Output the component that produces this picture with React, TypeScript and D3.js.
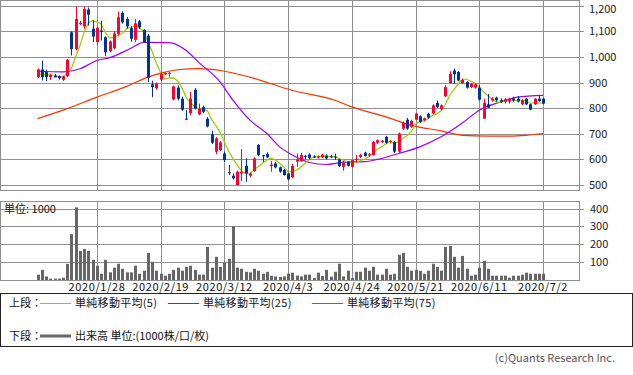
import React from "react";
import * as d3 from "d3";

// ---- data ----
const startDate = "2020-01-07";
const endDate = "2020-07-02";
const holidays = ["2020-01-13", "2020-02-11", "2020-02-24", "2020-03-20", "2020-04-29", "2020-05-04", "2020-05-05", "2020-05-06"];
const tickLabels = ["2020/1/28", "2020/2/19", "2020/3/12", "2020/4/3", "2020/4/24", "2020/5/21", "2020/6/11", "2020/7/2"];
const priceTicks = [500, 600, 700, 800, 900, 1000, 1100, 1200];
const volTicks = [100, 200, 300, 400];

const openP = [
  921, 951, 941, 921, 927, 925, 911, 925, 1096, 1031,
  1128, 1119, 1185, 1110, 1058, 1103, 1077, 1022, 1034, 1090,
  1172, 1148, 1112, 1067, 1139, 1106, 1083, 893, 878, 911,
  932, 935, 834, 880, 837, 759, 781, 872, 776, 804,
  759, 698, 630, 636, 623, 550, 536, 500, 545, 575,
  536, 554, 656, 616, 621, 574, 584, 569, 558, 545,
  530, 591, 594, 614, 619, 612, 607, 608, 615, 612,
  611, 600, 571, 591, 571, 598, 610, 626, 615, 617,
  665, 668, 688, 670, 668, 630, 720, 755, 727, 755,
  768, 753, 778, 779, 821, 796, 846, 898, 947, 941,
  898, 902, 882, 880, 880, 759, 815, 830, 841, 831,
  825, 826, 838, 837, 815, 837, 815, 815, 837, 837,
];
const closeP = [
  951, 921, 921, 929, 920, 917, 924, 989, 1031, 1148,
  1133, 1187, 1165, 1080, 1114, 1097, 1018, 1060, 1092, 1155,
  1135, 1119, 1071, 1131, 1116, 1058, 919, 882, 897, 934,
  937, 938, 885, 837, 794, 757, 837, 798, 798, 786,
  729, 665, 682, 666, 597, 548, 526, 552, 552, 545,
  545, 604, 617, 614, 608, 580, 569, 552, 539, 522,
  574, 600, 617, 610, 606, 609, 611, 619, 604, 609,
  608, 574, 587, 575, 597, 602, 617, 613, 620, 668,
  675, 673, 665, 672, 630, 701, 742, 720, 750, 779,
  746, 760, 763, 811, 805, 811, 882, 934, 932, 908,
  910, 880, 895, 893, 833, 820, 802, 837, 831, 825,
  835, 837, 830, 826, 831, 815, 794, 837, 828, 818,
];
const highP = [
  955, 986, 951, 935, 933, 928, 927, 992, 1100, 1196,
  1140, 1196, 1193, 1142, 1118, 1142, 1080, 1064, 1100, 1177,
  1178, 1155, 1120, 1148, 1145, 1108, 1090, 907, 900, 940,
  940, 943, 888, 889, 845, 792, 863, 878, 818, 810,
  765, 712, 687, 672, 630, 578, 545, 556, 640, 604,
  548, 608, 660, 618, 628, 594, 590, 572, 562, 548,
  583, 623, 625, 618, 623, 616, 615, 622, 620, 618,
  622, 602, 594, 594, 598, 617, 622, 630, 625, 672,
  678, 676, 692, 675, 672, 705, 748, 762, 755, 782,
  772, 763, 782, 815, 830, 815, 890, 944, 954, 945,
  915, 905, 898, 897, 890, 837, 855, 843, 845, 838,
  840, 841, 845, 848, 835, 840, 818, 840, 848, 840,
];
const lowP = [
  918, 908, 905, 910, 921, 911, 906, 922, 1006, 1025,
  1125, 1110, 1122, 1058, 1048, 1064, 1003, 1018, 1030, 1083,
  1130, 1110, 1060, 1058, 1110, 1055, 902, 843, 872, 905,
  930, 921, 830, 830, 790, 753, 772, 795, 772, 780,
  725, 660, 620, 632, 590, 539, 522, 498, 515, 513,
  530, 552, 612, 590, 605, 552, 565, 548, 536, 518,
  526, 571, 590, 600, 600, 605, 603, 605, 600, 605,
  598, 570, 556, 572, 568, 588, 605, 610, 610, 615,
  660, 664, 660, 662, 625, 625, 715, 715, 722, 752,
  742, 748, 758, 776, 800, 792, 843, 896, 896, 905,
  895, 876, 878, 876, 830, 759, 800, 825, 825, 820,
  818, 818, 825, 822, 812, 812, 792, 812, 825, 815,
];
const volume = [
  30, 57, 20, 8, 8, 8, 13, 90, 257, 407,
  163, 174, 163, 113, 80, 35, 113, 43, 69, 91,
  63, 43, 43, 80, 35, 52, 152, 102, 52, 35,
  24, 35, 57, 69, 52, 74, 80, 57, 30, 30,
  185, 69, 130, 74, 98, 118, 302, 69, 63, 46,
  43, 63, 52, 35, 46, 24, 20, 17, 20, 35,
  41, 25, 20, 30, 30, 11, 41, 22, 57, 19,
  46, 91, 20, 52, 11, 46, 46, 69, 52, 74,
  30, 30, 63, 30, 35, 141, 152, 74, 52, 57,
  52, 35, 52, 91, 74, 52, 185, 191, 130, 69,
  135, 63, 24, 30, 69, 107, 63, 24, 24, 24,
  24, 13, 24, 24, 30, 41, 35, 35, 35, 35,
];
// closes before the first visible day (for the 5-day average)
const priorCloses = [930, 926, 934, 928];
// readings of the 25- and 75-day averages [day index, value]
const ma25Read: [number, number][] = [
  [0, 944], [6, 942], [10, 954], [14, 986], [17, 997], [22, 1034], [25, 1057], [31, 1056],
  [35, 1025], [38, 978], [43, 902], [46, 831], [50, 753], [54, 701], [57, 649], [60, 617],
  [64, 588], [68, 580], [72, 589], [77, 591], [80, 600], [85, 623], [90, 649], [95, 688],
  [100, 742], [104, 792], [109, 824], [113, 843], [119, 850],
];
const ma75Read: [number, number][] = [
  [0, 759], [7, 798], [14, 843], [21, 885], [26, 921], [29, 937], [33, 950], [38, 954],
  [43, 947], [50, 921], [60, 869], [70, 831], [74, 805], [82, 766], [88, 733], [95, 711],
  [100, 694], [106, 691], [111, 691], [115, 694], [119, 701],
];

const legendItems = [
  { label: "単純移動平均(5)", color: "#99cc00" },
  { label: "単純移動平均(25)", color: "#9900ff" },
  { label: "単純移動平均(75)", color: "#ff3300" },
];

// ---- helpers ----
function tradingDays(): string[] {
  const out: string[] = [];
  const hol = new Set(holidays);
  const fmtKey = d3.timeFormat("%Y-%m-%d");
  const days = d3.timeDay.range(new Date(startDate + "T00:00:00"), d3.timeDay.offset(new Date(endDate + "T00:00:00"), 1));
  for (const d of days) {
    const wd = d.getDay();
    if (wd === 0 || wd === 6) continue;
    if (hol.has(fmtKey(d))) continue;
    out.push(`${d.getFullYear()}/${d.getMonth() + 1}/${d.getDate()}`);
  }
  return out;
}

const FONT = "'Noto Sans CJK JP', 'Noto Sans', sans-serif";
const RED = "#ff0033";
const BLUE = "#003399";
const GRID = "#8f8f8f";

export default function App() {
  const dates = tradingDays();
  const W = 633, H = 375;
  const plotL = 0, plotR = 579;
  const x = d3.scaleLinear().domain([-8.83, 127.47]).range([plotL, plotR]);
  const pTop = 0.5, pBot = 190.5;
  const y = d3.scaleLinear().domain([500, 1200]).range([185, 5.7]);
  const vTop = 201, vBot = 280;
  const yv = d3.scaleLinear().domain([0, 400]).range([280, 208.6]);

  const allCloses = [...priorCloses, ...closeP];
  const ma5 = closeP.map((_, i) => d3.mean(allCloses.slice(i, i + 5)) as number);

  const line = d3.line<[number, number]>().x((d) => x(d[0])).y((d) => y(d[1]));
  const smooth = d3.line<[number, number]>().x((d) => x(d[0])).y((d) => y(d[1])).curve(d3.curveMonotoneX);

  const tickIdx = tickLabels.map((t) => dates.indexOf(t));
  const crisp = (v: number) => Math.round(v) + 0.5;

  return (
    <svg width={W} height={H} style={{ position: "absolute", left: 0, top: 0, background: "#fff" }} fontFamily={FONT}>
      {/* price panel grid */}
      {priceTicks.map((t) => (
        <g key={"pg" + t}>
          <line x1={plotL} x2={plotR + 5} y1={crisp(y(t))} y2={crisp(y(t))} stroke={GRID} />
          <text x={589} y={Math.max(13, y(t) + 4)} fontSize={11} fill="#222">{d3.format(",")(t)}</text>
        </g>
      ))}
      {tickIdx.map((ti, k) => (
        <line key={"pv" + k} x1={crisp(x(ti))} x2={crisp(x(ti))} y1={pTop} y2={pBot} stroke={GRID} />
      ))}
      <rect x={plotL + 0.5} y={pTop} width={plotR - plotL} height={pBot - pTop} fill="none" stroke={GRID} />

      {/* moving averages */}
      <path d={smooth(ma75Read) || ""} fill="none" stroke="#ff3300" strokeWidth={1.2} />
      <path d={smooth(ma25Read) || ""} fill="none" stroke="#9900ff" strokeWidth={1.2} />
      <path d={line(ma5.map((v, i) => [i, v] as [number, number])) || ""} fill="none" stroke="#99cc00" strokeWidth={1.2} />

      {/* candles */}
      {closeP.map((c, i) => {
        const o = openP[i];
        const up = c >= o;
        const col = up ? RED : BLUE;
        const cx = Math.round(x(i));
        const top = y(Math.max(o, c));
        const bh = Math.max(1, y(Math.min(o, c)) - top);
        return (
          <g key={"c" + i}>
            <line x1={cx + 0.5} x2={cx + 0.5} y1={y(highP[i])} y2={y(lowP[i])} stroke={col} />
            <rect x={cx - 1} y={top} width={3} height={bh} fill={col} />
          </g>
        );
      })}

      {/* volume panel */}
      {volTicks.map((t) => (
        <g key={"vg" + t}>
          <line x1={plotL} x2={plotR + 5} y1={crisp(yv(t))} y2={crisp(yv(t))} stroke={GRID} />
          <text x={590} y={yv(t) + 4} fontSize={11} fill="#222">{t}</text>
        </g>
      ))}
      {tickIdx.map((ti, k) => (
        <line key={"vv" + k} x1={crisp(x(ti))} x2={crisp(x(ti))} y1={vTop} y2={vBot} stroke={GRID} />
      ))}
      {volume.map((v, i) => (
        <rect key={"v" + i} x={Math.round(x(i)) - 1} y={yv(v)} width={3} height={yv(0) - yv(v)} fill="#666666" />
      ))}
      <rect x={plotL + 0.5} y={vTop + 0.5} width={plotR - plotL} height={vBot - vTop} fill="none" stroke={GRID} />
      <text x={4} y={213} fontSize={11} fill="#111">単位: 1000</text>

      {/* date labels */}
      {tickIdx.map((ti, k) => (
        <text key={"dl" + k} x={x(ti)} y={291} fontSize={11} textAnchor="middle" fill="#111" letterSpacing={0.6}>
          {tickLabels[k]}
        </text>
      ))}

      {/* legend */}
      <rect x={0.5} y={293.5} width={632} height={53} fill="none" stroke="#222" />
      <text x={9} y={307} fontSize={11} fill="#111">上段：</text>
      {legendItems.map((it, k) => {
        const lx = [40, 168, 312][k];
        return (
          <g key={"lg" + k}>
            <line x1={lx} x2={lx + 31} y1={303.5} y2={303.5} stroke={it.color} />
            <text x={lx + 35} y={307} fontSize={11} fill="#111" letterSpacing={0.3}>{it.label}</text>
          </g>
        );
      })}
      <text x={9} y={340} fontSize={11} fill="#111">下段：</text>
      <line x1={40} x2={71} y1={336} y2={336} stroke="#666666" strokeWidth={3} />
      <text x={75} y={340} fontSize={11} fill="#111">出来高 単位:(1000株/口/枚)</text>

      <text x={615} y={362} fontSize={11} textAnchor="end" fill="#555">(c)Quants Research Inc.</text>
    </svg>
  );
}
